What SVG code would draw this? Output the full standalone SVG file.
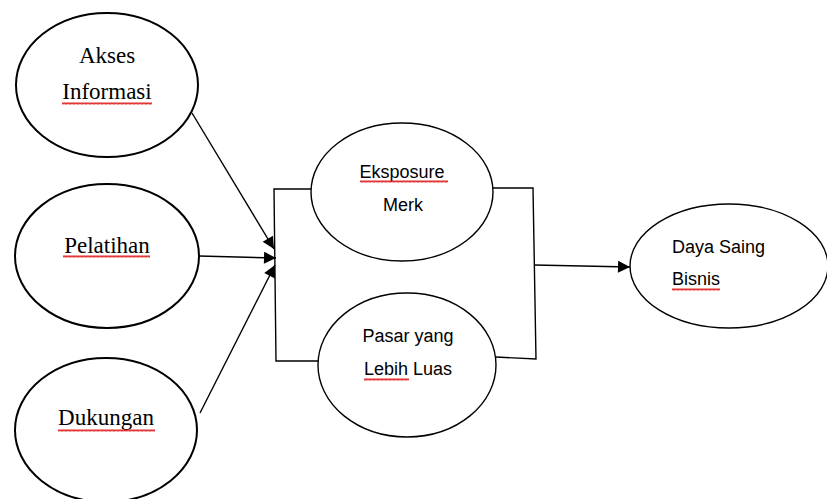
<svg xmlns="http://www.w3.org/2000/svg" width="827" height="499" viewBox="0 0 827 499">
<style>
.el{fill:#fff;stroke:#000;stroke-width:2}
.er{fill:#fff;stroke:#000;stroke-width:1.4}
.ser{font-family:"Liberation Serif","Times New Roman",serif;font-size:23px;fill:#000;text-anchor:middle}
.san{font-family:"Liberation Sans",Arial,sans-serif;font-size:18px;fill:#000}
.ln{fill:none;stroke:#000;stroke-width:1.4}
.sq{fill:url(#wave)}
</style>
<defs>
<pattern id="wave" x="0" y="0" width="4" height="3" patternUnits="userSpaceOnUse">
<path d="M0,2.6 L1,0.4 L2,2.6 L3,0.4 L4,2.6" fill="none" stroke="#e02020" stroke-width="0.9"/>
</pattern>
<marker id="ah" viewBox="0 0 10 10" refX="10" refY="5" markerWidth="13" markerHeight="12" markerUnits="userSpaceOnUse" orient="auto">
<path d="M0,0 L10,5 L0,10 Z" fill="#000"/>
</marker>
</defs>
<rect width="827" height="499" fill="#fff"/>
<g id="connectors">
<line class="ln" x1="192" y1="113" x2="274" y2="249" marker-end="url(#ah)"/>
<line class="ln" x1="199" y1="256" x2="276" y2="258" marker-end="url(#ah)"/>
<line class="ln" x1="200" y1="413" x2="275" y2="265" marker-end="url(#ah)"/>
<polyline class="ln" points="313,189 274,189 276,361 318,361"/>
<polyline class="ln" points="493,188 533,188 536,359 496,357"/>
<line class="ln" x1="534" y1="265" x2="630" y2="267" marker-end="url(#ah)"/>
</g>
<g id="akses">
<ellipse class="el" cx="107" cy="85" rx="91" ry="72"/>
<text class="ser" x="107" y="63">Akses</text>
<text class="ser" x="107" y="99">Informasi</text>
<rect class="sq" x="62" y="102" width="90" height="3"/>
</g>
<g id="pelatihan">
<ellipse class="el" cx="107" cy="256" rx="92" ry="72"/>
<text class="ser" x="107" y="253">Pelatihan</text>
<rect class="sq" x="63" y="255" width="87" height="3"/>
</g>
<g id="dukungan">
<ellipse class="el" cx="106" cy="430" rx="91" ry="72"/>
<text class="ser" x="106" y="425">Dukungan</text>
<rect class="sq" x="58" y="429" width="97" height="3"/>
</g>
<g id="eksposure">
<ellipse class="er" cx="402" cy="192" rx="91" ry="69"/>
<text class="san" x="402" y="178" text-anchor="middle">Eksposure</text>
<text class="san" x="403" y="211" text-anchor="middle">Merk</text>
<rect class="sq" x="360" y="180" width="88" height="3"/>
</g>
<g id="pasar">
<ellipse class="er" cx="407" cy="365" rx="89" ry="72"/>
<text class="san" x="408" y="342" text-anchor="middle">Pasar yang</text>
<text class="san" x="408" y="375" text-anchor="middle">Lebih Luas</text>
<rect class="sq" x="364" y="378" width="45" height="3"/>
</g>
<g id="daya-saing">
<ellipse class="er" cx="729" cy="266" rx="99" ry="62"/>
<text class="san" x="672" y="253">Daya Saing</text>
<text class="san" x="672" y="285">Bisnis</text>
<rect class="sq" x="672" y="288" width="48" height="3"/>
</g>
</svg>
